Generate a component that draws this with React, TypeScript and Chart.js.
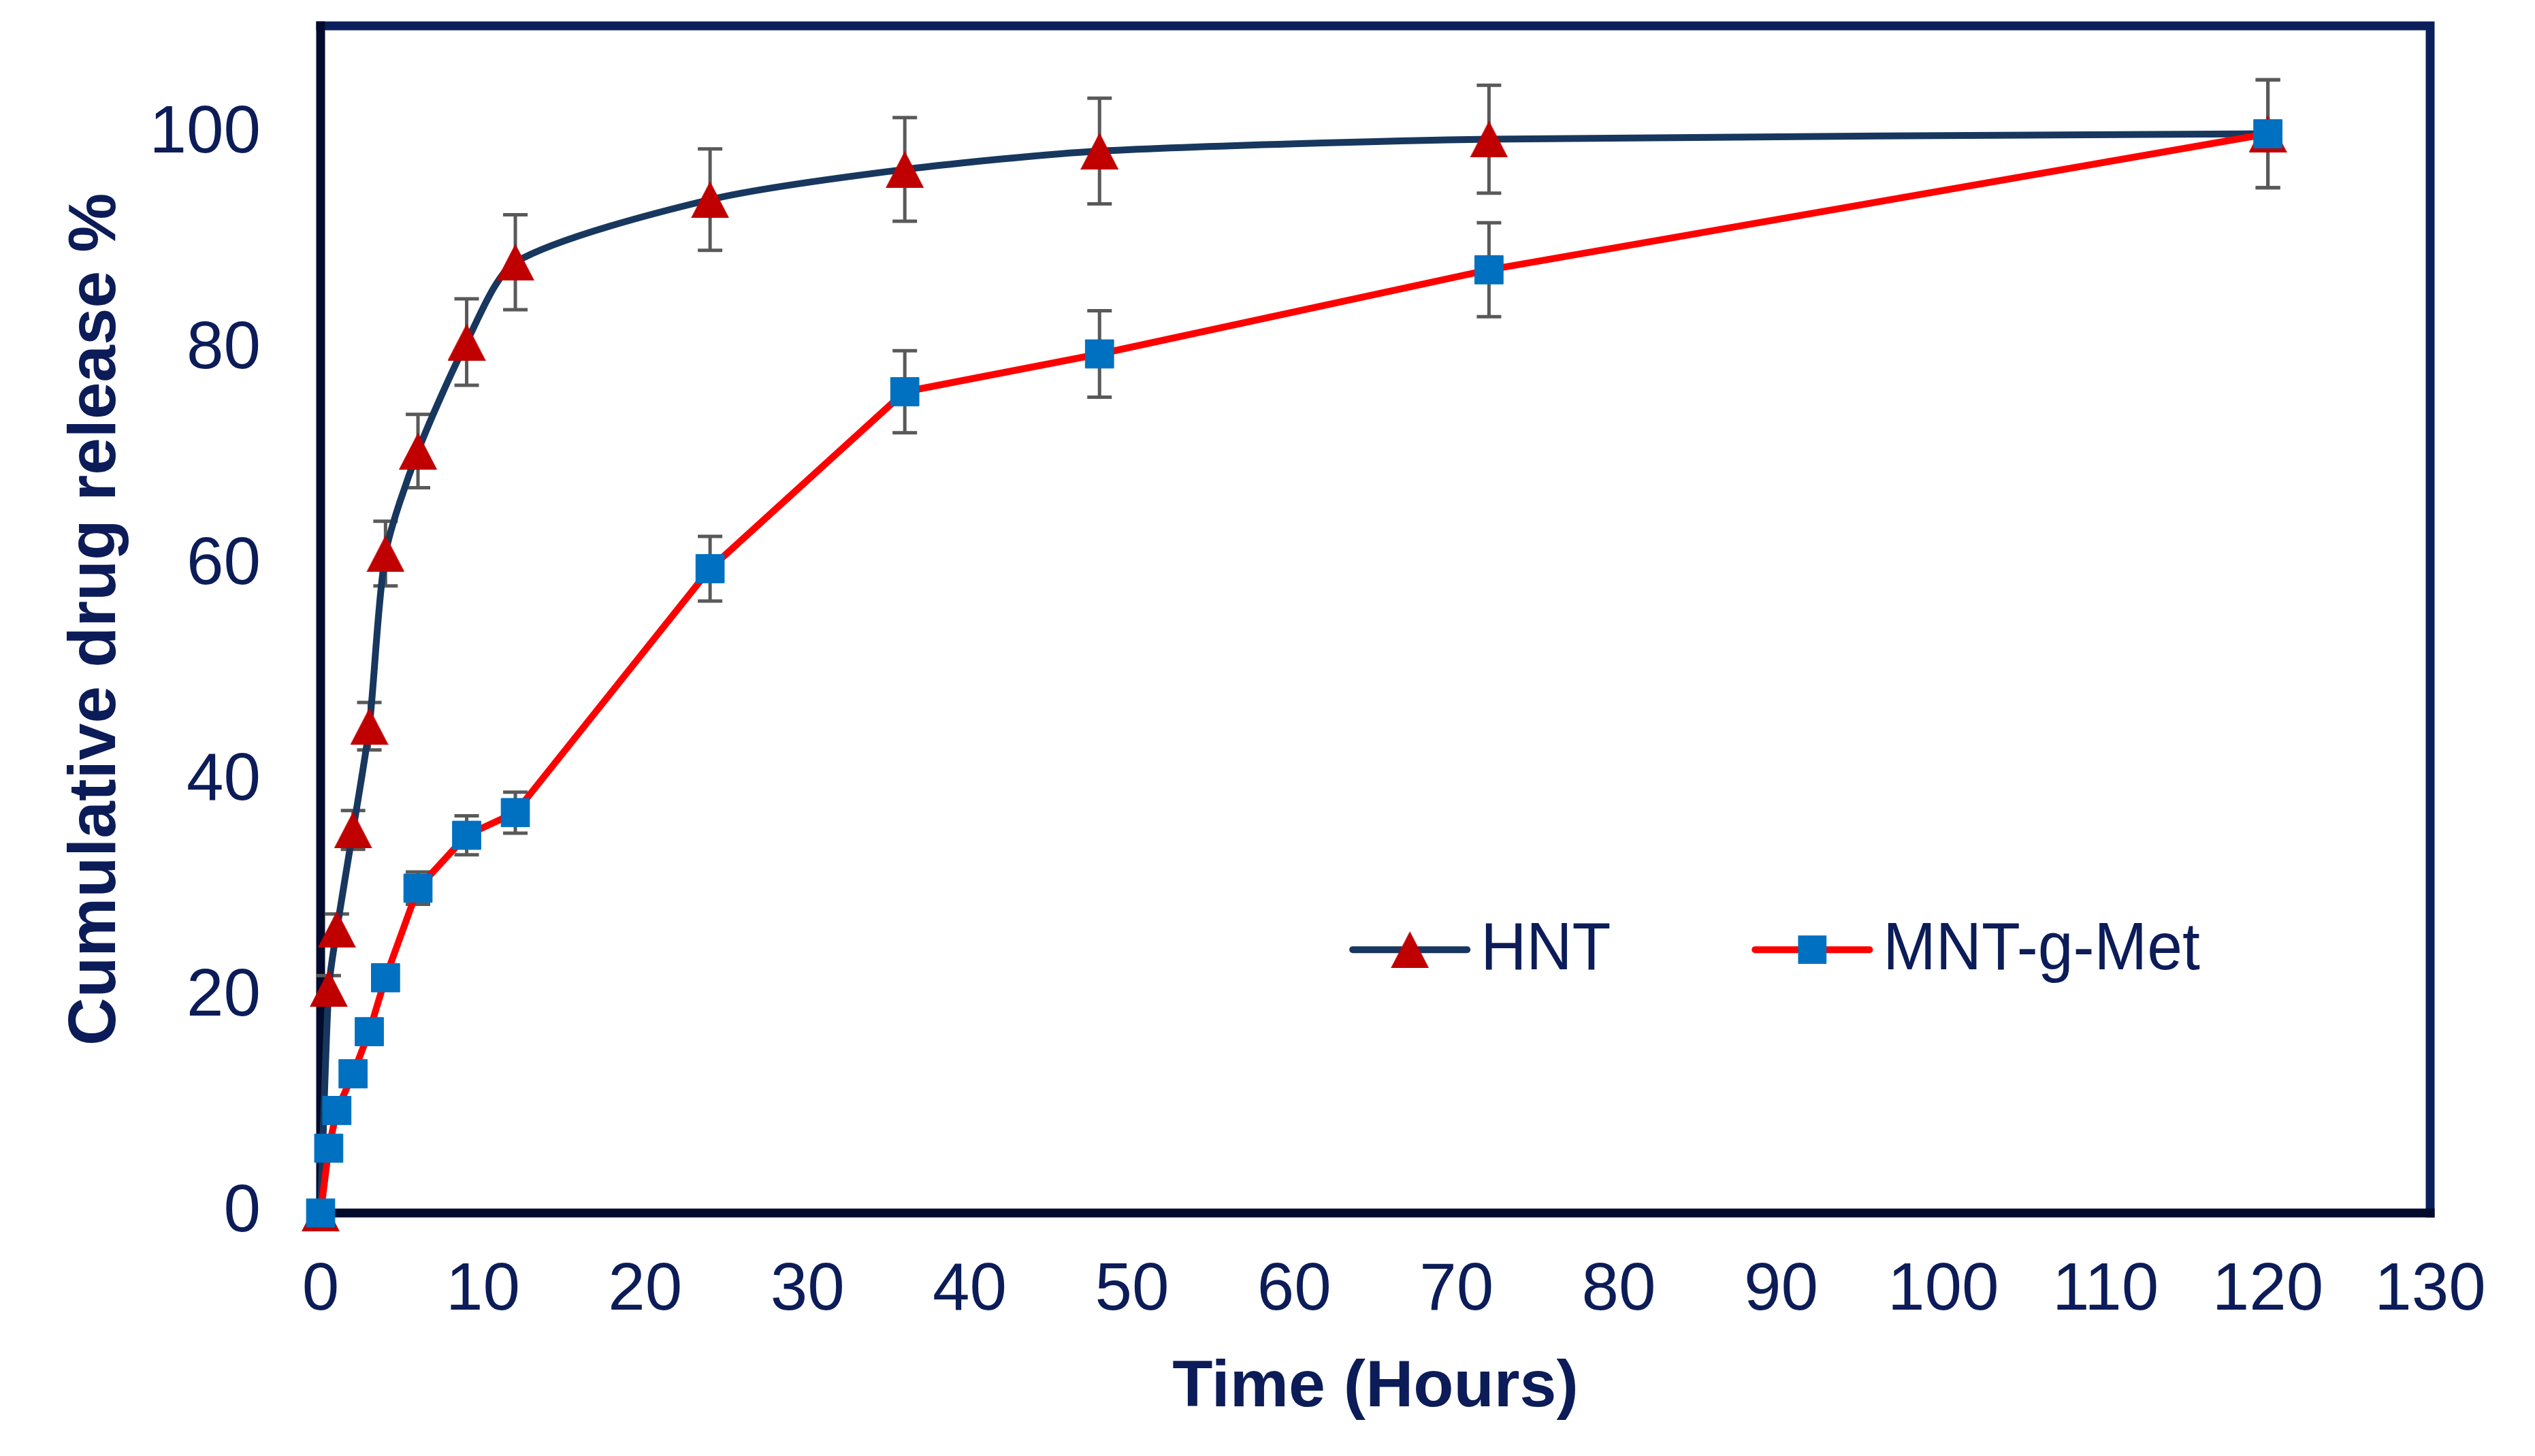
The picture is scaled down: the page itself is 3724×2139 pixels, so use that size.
import React, { useEffect, useRef } from 'react';
import { Chart, registerables } from 'chart.js';

Chart.register(...registerables);

// ---- data ----
const hours = [0, 0.5, 1, 2, 3, 4, 6, 9, 12, 24, 36, 48, 72, 120];
const hntRelease = [0, 20.8, 26.3, 35.5, 45.1, 61.1, 70.6, 80.7, 88.1, 93.9, 96.7, 98.4, 99.5, 100];
const hntError = [0, 1.2, 1.4, 1.8, 2.2, 3.0, 3.4, 4.0, 4.4, 4.7, 4.8, 4.9, 5.0, 5.0];
const mntRelease = [0, 6.0, 9.5, 12.9, 16.8, 21.8, 30.1, 35.0, 37.1, 59.7, 76.1, 79.6, 87.4, 100];
const mntError = [0, 0, 0, 0, 0, 0, 1.5, 1.8, 1.9, 3.0, 3.8, 4.0, 4.35, 5.0];
const seriesNames = ['HNT', 'MNT-g-Met'];
const xAxisTitle = 'Time (Hours)';
const yAxisTitle = 'Cumulative drug release %';
const xRange = [0, 130];
const yRange = [0, 110];
const xStep = 10;
const yStep = 20;

const W = 3724;
const H = 2139;
const AREA = { left: 471, right: 3570, top: 38, bottom: 1782 };
const TEXT = '#0c1c58';
const FRAME_DARK = '#020b2c';
const FRAME_BLUE = '#0b1f5c';
const FONT = '"Liberation Sans", Arial, sans-serif';

function makeTriangle(color: string, w: number, h: number) {
  const c = document.createElement('canvas');
  c.width = w;
  c.height = h;
  const g = c.getContext('2d')!;
  g.fillStyle = color;
  g.beginPath();
  g.moveTo(w / 2, 0);
  g.lineTo(w, h);
  g.lineTo(0, h);
  g.closePath();
  g.fill();
  return c;
}

const framePlugin = {
  id: 'frame',
  beforeDatasetsDraw(chart: any) {
    const { ctx, chartArea: a } = chart;
    ctx.save();
    ctx.lineWidth = 13;
    ctx.lineCap = 'square';
    ctx.strokeStyle = FRAME_BLUE;
    ctx.beginPath();
    ctx.moveTo(a.left, a.top);
    ctx.lineTo(a.right, a.top);
    ctx.lineTo(a.right, a.bottom);
    ctx.stroke();
    ctx.strokeStyle = FRAME_DARK;
    ctx.beginPath();
    ctx.moveTo(a.left, a.top);
    ctx.lineTo(a.left, a.bottom);
    ctx.lineTo(a.right, a.bottom);
    ctx.stroke();
    ctx.restore();
  },
};

const errorBarPlugin = {
  id: 'errorBars',
  beforeDatasetsDraw(chart: any) {
    const { ctx } = chart;
    const xs = chart.scales.x;
    const ys = chart.scales.y;
    ctx.save();
    ctx.strokeStyle = '#595959';
    ctx.lineWidth = 5;
    chart.data.datasets.forEach((ds: any) => {
      const errs: number[] = ds.errors || [];
      ds.data.forEach((p: any, i: number) => {
        const e = errs[i];
        if (!e) return;
        const px = xs.getPixelForValue(p.x);
        const top = ys.getPixelForValue(p.y + e);
        const bot = ys.getPixelForValue(p.y - e);
        ctx.beginPath();
        ctx.moveTo(px, top);
        ctx.lineTo(px, bot);
        ctx.moveTo(px - 18, top);
        ctx.lineTo(px + 18, top);
        ctx.moveTo(px - 18, bot);
        ctx.lineTo(px + 18, bot);
        ctx.stroke();
      });
    });
    ctx.restore();
  },
};

const legendPlugin = {
  id: 'customLegend',
  afterDatasetsDraw(chart: any) {
    const { ctx } = chart;
    const xs = chart.scales.x;
    const ys = chart.scales.y;
    const y = ys.getPixelForValue(24.4);
    const starts = [xs.getPixelForValue(63.6), xs.getPixelForValue(88.4)];
    ctx.save();
    chart.data.datasets.forEach((ds: any, i: number) => {
      const x0 = starts[i];
      const len = 168;
      ctx.strokeStyle = ds.borderColor;
      ctx.lineWidth = ds.borderWidth;
      ctx.lineCap = 'round';
      ctx.beginPath();
      ctx.moveTo(x0, y);
      ctx.lineTo(x0 + len, y);
      ctx.stroke();
      const cx = x0 + len / 2;
      const st = ds.pointStyle;
      if (st && typeof st !== 'string') {
        ctx.drawImage(st, cx - st.width / 2, y - st.height / 2);
      } else {
        ctx.fillStyle = ds.pointBackgroundColor;
        const s = ds.pointRadius * Math.SQRT1_2;
        ctx.fillRect(cx - s, y - s, 2 * s, 2 * s);
      }
      ctx.fillStyle = TEXT;
      ctx.font = `98px ${FONT}`;
      ctx.textAlign = 'left';
      ctx.textBaseline = 'middle';
      ctx.save();
      ctx.translate(x0 + len + 20, y + 2);
      ctx.scale(0.95, 1);
      ctx.fillText(ds.label, 0, 0);
      ctx.restore();
    });
    ctx.restore();
  },
};

export default function App() {
  const ref = useRef<HTMLCanvasElement | null>(null);

  useEffect(() => {
    if (!ref.current) return;
    const tri = makeTriangle('#C00000', 56, 54);
    const chart = new Chart(ref.current, {
      type: 'line',
      data: {
        datasets: [
          {
            label: seriesNames[0],
            data: hours.map((h, i) => ({ x: h, y: hntRelease[i] })),
            errors: hntError,
            borderColor: '#17375E',
            borderWidth: 10,
            tension: 0.25,
            pointStyle: tri,
            pointRadius: 28,
            pointBackgroundColor: '#C00000',
            pointBorderColor: '#C00000',
            clip: false,
            order: 2,
          } as any,
          {
            label: seriesNames[1],
            data: hours.map((h, i) => ({ x: h, y: mntRelease[i] })),
            errors: mntError,
            borderColor: '#FF0000',
            borderWidth: 10,
            tension: 0,
            pointStyle: 'rect',
            pointRadius: 29.5,
            pointBackgroundColor: '#0070C0',
            pointBorderColor: '#0070C0',
            pointBorderWidth: 1,
            clip: false,
            order: 1,
          } as any,
        ],
      },
      options: {
        animation: false,
        responsive: false,
        devicePixelRatio: 1,
        layout: { padding: { top: AREA.top, right: W - AREA.right, left: 0, bottom: 0 } },
        plugins: {
          legend: { display: false },
          tooltip: { enabled: false },
        },
        scales: {
          x: {
            type: 'linear',
            min: xRange[0],
            max: xRange[1],
            grid: { display: false, drawTicks: false },
            border: { display: false },
            ticks: {
              stepSize: xStep,
              color: TEXT,
              font: { family: FONT, size: 98 },
              padding: 56,
              maxRotation: 0,
              autoSkip: false,
            },
            title: {
              display: true,
              text: xAxisTitle,
              color: TEXT,
              font: { family: FONT, size: 97, weight: 'bold' },
              padding: { top: 0, bottom: 42 },
            },
            afterFit: (s: any) => {
              s.height = H - AREA.bottom;
              s.paddingLeft = 0;
              s.paddingRight = 0;
            },
          },
          y: {
            type: 'linear',
            min: yRange[0],
            max: yRange[1],
            grid: { display: false, drawTicks: false },
            border: { display: false },
            ticks: {
              stepSize: yStep,
              includeBounds: false,
              color: TEXT,
              font: { family: FONT, size: 98 },
              padding: 88,
            },
            title: {
              display: true,
              text: yAxisTitle,
              color: TEXT,
              font: { family: FONT, size: 98, weight: 'bold' },
              padding: { top: 83, bottom: 0 },
            },
            afterFit: (s: any) => {
              s.width = AREA.left;
              s.paddingTop = 0;
              s.paddingBottom = 0;
            },
          },
        },
      } as any,
      plugins: [framePlugin, errorBarPlugin, legendPlugin],
    });
    return () => chart.destroy();
  }, []);

  return (
    <div style={{ position: 'absolute', left: 0, top: 0, width: W, height: H, background: '#fff' }}>
      <canvas ref={ref} width={W} height={H} style={{ width: W + 'px', height: H + 'px', display: 'block' }} />
    </div>
  );
}
